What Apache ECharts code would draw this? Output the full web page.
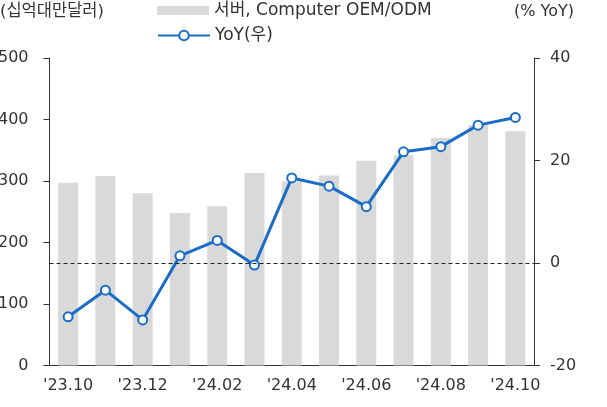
<!DOCTYPE html>
<html>
<head>
<meta charset="utf-8">
<script src="https://cdn.jsdelivr.net/npm/echarts@6/dist/echarts.min.js"></script>
<style>
  html, body { margin: 0; padding: 0; background: #fff; }
  #main { width: 607px; height: 407px; }
</style>
</head>
<body>
<div id="main"></div>
<script>
var months = ["'23.10", "'23.11", "'23.12", "'24.01", "'24.02", "'24.03", "'24.04",
              "'24.05", "'24.06", "'24.07", "'24.08", "'24.09", "'24.10"];
// 서버, Computer OEM/ODM (십억대만달러)
var sales = [297, 308, 280, 248, 259, 313, 299, 309, 333, 342, 370, 391, 381];
// YoY (%), right axis
var yoy = [-10.5, -5.3, -11.1, 1.4, 4.4, -0.4, 16.6, 15.0, 11.0, 21.7, 22.7, 26.9, 28.4];

var FONT = '"DejaVu Sans", "Noto Sans CJK KR"';
var TXT = '#333';
var AXIS = '#333';
var BLUE = '#1a6dc7';

var myChart = echarts.init(document.getElementById('main'));

var option = {
  animation: false,
  textStyle: { fontFamily: FONT },
  grid: { left: 49.5, right: 73, top: 58, bottom: 41.5, outerBoundsMode: 'none' },
  graphic: [
    { type: 'text', left: 0, top: 3,
      style: { text: '(십억대만달러)', font: '16.5px ' + FONT, fill: TXT } },
    { type: 'text', left: 514, top: 4,
      style: { text: '(% YoY)', font: '16px ' + FONT, fill: TXT } }
  ],
  legend: [
    { left: 157, top: 2, padding: 0, itemWidth: 52, itemHeight: 9, itemGap: 6,
      data: [{ name: '서버, Computer OEM/ODM', icon: 'rect' }],
      textStyle: { fontFamily: FONT, fontSize: 17, color: TXT } },
    { left: 157, top: 27, padding: 0, itemWidth: 52, itemHeight: 12, itemGap: 6,
      data: ['YoY(우)'],
      textStyle: { fontFamily: FONT, fontSize: 17, color: TXT } }
  ],
  xAxis: {
    type: 'category',
    data: months,
    axisLine: { lineStyle: { color: AXIS } },
    axisTick: { interval: 1, length: 5, lineStyle: { color: AXIS } },
    axisLabel: { interval: 1, margin: 12, fontSize: 16, color: TXT, fontFamily: FONT }
  },
  yAxis: [
    { type: 'value', min: 0, max: 500, interval: 100,
      axisLine: { show: true, lineStyle: { color: AXIS } },
      axisTick: { show: true, length: 6, lineStyle: { color: AXIS } },
      splitLine: { show: false },
      axisLabel: { margin: 21, fontSize: 16, color: TXT, fontFamily: FONT } },
    { type: 'value', min: -20, max: 40, interval: 20,
      axisLine: { show: true, lineStyle: { color: AXIS } },
      axisTick: { show: true, length: 6, lineStyle: { color: AXIS } },
      splitLine: { show: false },
      axisLabel: { margin: 16, fontSize: 16, color: TXT, fontFamily: FONT } }
  ],
  series: [
    { name: '서버, Computer OEM/ODM', type: 'bar', data: sales,
      barWidth: 20, itemStyle: { color: '#d9d9d9' } },
    { name: 'YoY(우)', type: 'line', yAxisIndex: 1, data: yoy,
      symbol: 'circle', symbolSize: 9,
      lineStyle: { color: BLUE, width: 3 },
      itemStyle: { color: '#fff', borderColor: BLUE, borderWidth: 2 },
      markLine: {
        silent: true, symbol: 'none', label: { show: false },
        lineStyle: { color: '#222', type: [4, 3], width: 1 },
        data: [{ yAxis: 0 }]
      } }
  ]
};

myChart.setOption(option);
</script>
</body>
</html>
